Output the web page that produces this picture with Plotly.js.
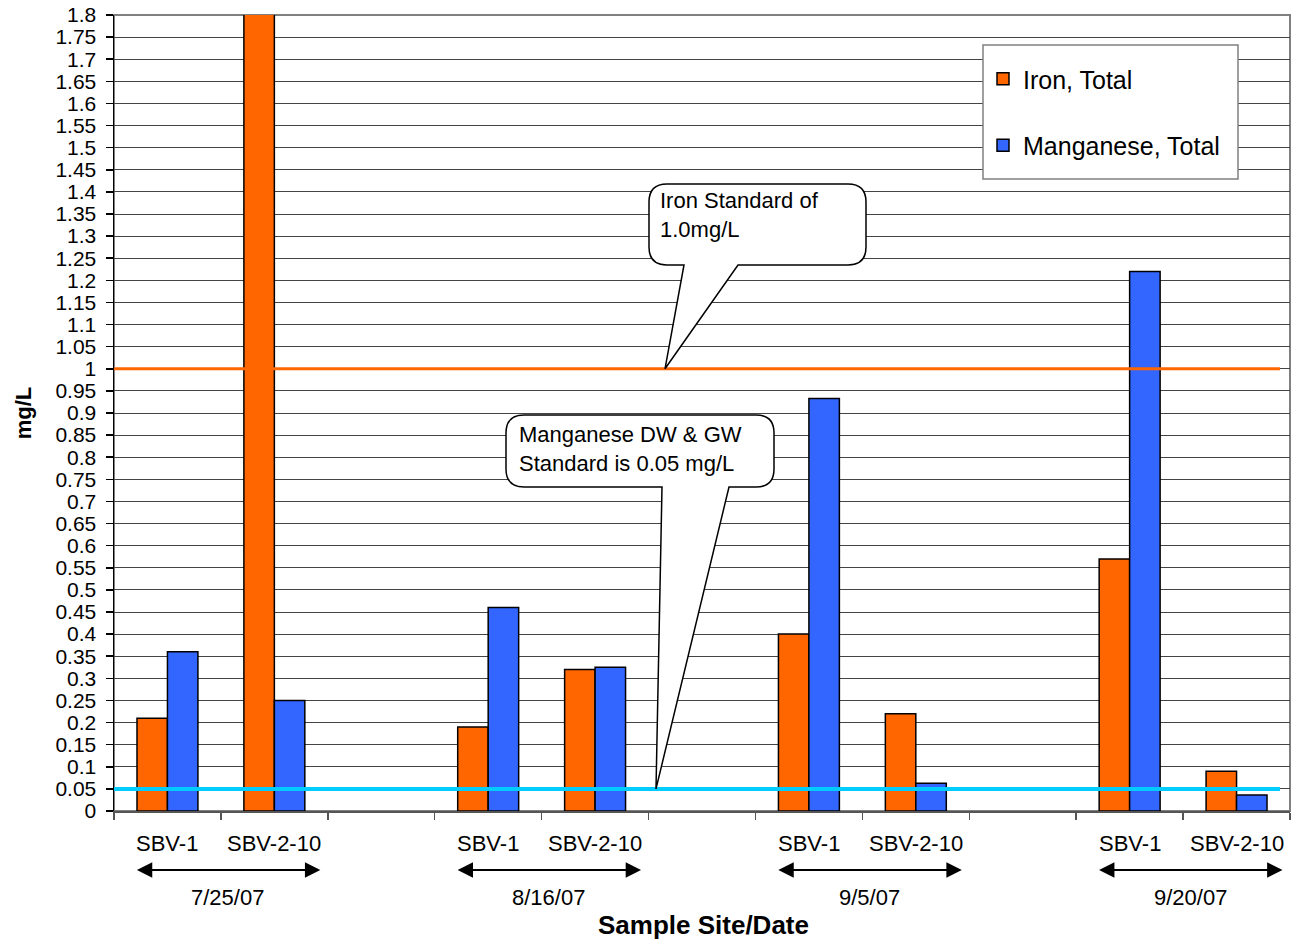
<!DOCTYPE html>
<html>
<head>
<meta charset="utf-8">
<script src="https://cdn.plot.ly/plotly-3.0.1.min.js"></script>
<style>html,body{margin:0;padding:0;background:#fff;}#chart{width:1294px;height:943px;}</style>
</head>
<body>
<div id="chart"></div>
<script>
// ---- data ----
const dates = ['7/25/07', '8/16/07', '9/5/07', '9/20/07'];
const sites = ['SBV-1', 'SBV-2-10'];
const iron = [0.21, 1.9, 0.19, 0.32, 0.40, 0.22, 0.57, 0.09];
const manganese = [0.36, 0.25, 0.46, 0.325, 0.933, 0.063, 1.22, 0.036];
const ironStandard = 1.0;
const manganeseStandard = 0.05;
const seriesNames = ['Iron, Total', 'Manganese, Total'];

// ---- geometry ----
const W = 1294, H = 943;
const M = {l: 114, r: 4, t: 15, b: 132};
const plotW = W - M.l - M.r, plotH = H - M.t - M.b;
const slotsPerDate = sites.length + 1;
const nSlots = dates.length * slotsPerDate - 1;
const yMax = 1.8;
const FONT = 'Liberation Sans, Arial, sans-serif';

// x position of each sample: date index * 3 + site index
const xs = [], siteLabels = [];
dates.forEach((d, g) => sites.forEach((s, i) => { xs.push(g * slotsPerDate + i); siteLabels.push(s); }));

// pixel -> data / paper helpers for annotations
const px2x = px => (px - M.l) / plotW * nSlots - 0.5;
const py2y = py => (M.t + plotH - py) / plotH * yMax;
const px2p = px => (px - M.l) / plotW;
const py2p = py => (M.t + plotH - py) / plotH;
const ppx = px => px / plotW * nSlots;
const ppy = py => py / plotH * yMax;

const traces = [
  {type: 'bar', name: seriesNames[0], x: xs, y: iron, legendgroup: 'a',
   marker: {color: '#FF6600', line: {color: '#000', width: 1.5}}},
  {type: 'bar', name: seriesNames[1], x: xs, y: manganese, legendgroup: 'b',
   marker: {color: '#3366FF', line: {color: '#000', width: 1.5}}}
];

const shapes = [];
const annotations = [];

// plot border
shapes.push({type: 'rect', xref: 'paper', yref: 'paper', x0: 0, x1: 1, y0: 0, y1: 1,
  line: {color: '#808080', width: 2}, layer: 'below'});

// standard lines
const lineEnd = px2p(1280);
shapes.push({type: 'line', xref: 'paper', yref: 'y', x0: 0, x1: lineEnd, y0: ironStandard, y1: ironStandard,
  line: {color: '#FF6600', width: 3}, layer: 'above'});
shapes.push({type: 'line', xref: 'paper', yref: 'y', x0: 0, x1: lineEnd, y0: manganeseStandard, y1: manganeseStandard,
  line: {color: '#00CCFF', width: 4}, layer: 'above'});

// legend frame
shapes.push({type: 'rect', xref: 'paper', yref: 'paper', x0: px2p(983), x1: px2p(1238), y0: py2p(179), y1: py2p(45),
  fillcolor: '#fff', line: {color: '#808080', width: 1.5}, layer: 'above'});

// callout bubbles
function callout(box, baseL, baseR, tipX, tipY, r) {
  const L = px2x(box.l), R = px2x(box.r), T = py2y(box.t), B = py2y(box.b);
  const rx = ppx(r), ry = ppy(r);
  const p = [
    `M${L + rx},${T}`, `L${R - rx},${T}`, `Q${R},${T} ${R},${T - ry}`,
    `L${R},${B + ry}`, `Q${R},${B} ${R - rx},${B}`,
    `L${px2x(baseR)},${B}`, `L${tipX},${tipY}`, `L${px2x(baseL)},${B}`,
    `L${L + rx},${B}`, `Q${L},${B} ${L},${B + ry}`,
    `L${L},${T - ry}`, `Q${L},${T} ${L + rx},${T}`, 'Z'
  ].join(' ');
  shapes.push({type: 'path', xref: 'x', yref: 'y', path: p, fillcolor: '#fff',
    line: {color: '#000', width: 1.5}, layer: 'above'});
}
callout({l: 649, r: 866, t: 184, b: 265}, 684, 738, px2x(665), ironStandard, 18);
callout({l: 506, r: 774, t: 415, b: 487}, 662, 729, px2x(656), manganeseStandard, 18);

annotations.push({xref: 'x', yref: 'y', x: px2x(658), y: py2y(186), xanchor: 'left', yanchor: 'top',
  align: 'left', showarrow: false, text: 'Iron Standard of<br>1.0mg/L',
  font: {family: FONT, size: 22, color: '#000'}});
annotations.push({xref: 'x', yref: 'y', x: px2x(517), y: py2y(420), xanchor: 'left', yanchor: 'top',
  align: 'left', showarrow: false, text: 'Manganese DW &amp; GW<br>Standard is 0.05 mg/L',
  font: {family: FONT, size: 22, color: '#000'}});

// category (site) labels
xs.forEach((x, i) => annotations.push({xref: 'x', yref: 'paper', x: x, y: py2p(843),
  xanchor: 'center', yanchor: 'middle', showarrow: false, text: siteLabels[i],
  font: {family: FONT, size: 22, color: '#000'}}));

// date arrows and labels
dates.forEach((d, g) => {
  const x0 = g * slotsPerDate - 0.5 + 0.2;
  const x1 = g * slotsPerDate + sites.length - 0.5 - 0.07;
  annotations.push({xref: 'x', yref: 'paper', axref: 'x', ayref: 'pixel', x: x1, y: py2p(870), ax: x0, ay: 0,
    text: '', showarrow: true, arrowside: 'end+start', arrowhead: 2, arrowsize: 1.4, arrowwidth: 2.2,
    arrowcolor: '#000', standoff: 0, startstandoff: 0});
  annotations.push({xref: 'x', yref: 'paper', x: (x0 + x1) / 2, y: py2p(897),
    xanchor: 'center', yanchor: 'middle', showarrow: false, text: d,
    font: {family: FONT, size: 22, color: '#000'}});
});

// x axis title
annotations.push({xref: 'paper', yref: 'paper', x: px2p(703), y: py2p(925),
  xanchor: 'center', yanchor: 'middle', showarrow: false, text: '<b>Sample Site/Date</b>',
  font: {family: FONT, size: 26, color: '#000'}});

const tickBounds = [];
for (let i = 0; i <= nSlots; i++) tickBounds.push(i - 0.5);

const layout = {
  width: W, height: H,
  margin: M,
  paper_bgcolor: '#fff', plot_bgcolor: '#fff',
  barmode: 'group', bargap: 0.43, bargroupgap: 0,
  showlegend: true,
  legend: {x: px2p(983), y: py2p(56), xanchor: 'left', yanchor: 'top',
    bgcolor: 'rgba(0,0,0,0)', borderwidth: 0, tracegroupgap: 31,
    font: {family: FONT, size: 25, color: '#000'}, traceorder: 'grouped'},
  xaxis: {range: [-0.5, nSlots - 0.5], tickvals: tickBounds, ticktext: tickBounds.map(() => ''),
    showticklabels: false, ticks: 'outside', ticklen: 7, tickcolor: '#555', tickwidth: 1.5,
    showgrid: false, zeroline: false, showline: true, linecolor: '#555', linewidth: 1.5, fixedrange: true},
  yaxis: {range: [0, yMax], dtick: 0.05, tick0: 0, ticks: 'outside', ticklen: 7, tickcolor: '#000', tickwidth: 1.5,
    ticklabelstandoff: 5,
    showgrid: true, gridcolor: '#444', gridwidth: 1, zeroline: false,
    showline: true, linecolor: '#000', linewidth: 1.5,
    tickfont: {family: FONT, size: 21, color: '#000'},
    title: {text: '<b>mg/L</b>', font: {family: FONT, size: 22, color: '#000'}, standoff: 17}},
  shapes: shapes,
  annotations: annotations,
  font: {family: FONT, color: '#000'}
};

Plotly.newPlot('chart', traces, layout, {displayModeBar: false, staticPlot: true});
</script>
</body>
</html>
